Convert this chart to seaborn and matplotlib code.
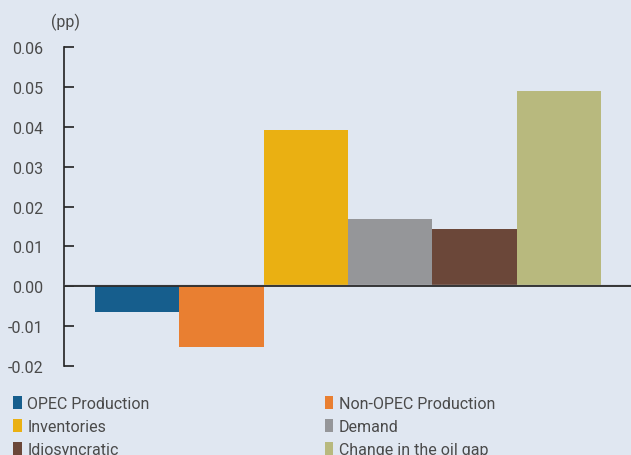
import matplotlib
matplotlib.use("Agg")
import matplotlib.pyplot as plt
import matplotlib.patches as mpatches
import seaborn as sns
import pandas as pd

categories = ["OPEC Production", "Non-OPEC Production", "Inventories",
              "Demand", "Idiosyncratic", "Change in the oil gap"]
values = [-0.0064, -0.0152, 0.0393, 0.0168, 0.0143, 0.0490]
colors = ["#165e8d", "#e97f31", "#eab012", "#959699", "#6b4739", "#b8b97e"]
yticks = [-0.02, -0.01, 0.00, 0.01, 0.02, 0.03, 0.04, 0.05, 0.06]

bg = "#e0e7f1"
text_color = "#4a4a4a"
fs = 11.5

sns.set_theme(style="white")
plt.rcParams["font.family"] = ["Roboto", "DejaVu Sans"]

df = pd.DataFrame({"category": categories, "value": values})

fig = plt.figure(figsize=(6.31, 4.56), dpi=100, facecolor=bg)
ax = fig.add_axes([64 / 631, 1 - 367 / 456, 1 - 64 / 631, (367 - 48) / 456])
ax.set_facecolor(bg)

sns.barplot(data=df, x="category", y="value", hue="category",
            palette=colors, width=1.0, legend=False, ax=ax,
            linewidth=0, saturation=1)

ax.set_xlim(-0.865, 5.853)
ax.set_ylim(-0.02, 0.06)
ax.set_yticks(yticks)
ax.set_yticklabels([f"{t:.2f}" for t in yticks], color=text_color, fontsize=fs)
ax.set_xticks([])
ax.set_xlabel("")
ax.set_ylabel("")

for side in ["top", "right", "bottom"]:
    ax.spines[side].set_visible(False)
ax.spines["left"].set_color("#222222")
ax.spines["left"].set_linewidth(1.2)
ax.tick_params(axis="y", direction="in", length=7, width=1.2,
               color="#222222", pad=15, left=True)

# zero baseline with a faint shadow just above it
ax.axhline(0.0004, color="#b5b9c0", lw=1.0, zorder=3)
ax.axhline(0, color="#2a2a2a", lw=1.3, zorder=4)

fig.text(65 / 631, 1 - 22 / 456, "(pp)", ha="center", va="center",
         color=text_color, fontsize=fs)

# Legend: two columns, filled column-wise
order = [0, 2, 4, 1, 3, 5]
handles = [mpatches.Patch(facecolor=colors[i], edgecolor="none") for i in order]
labels = [categories[i] for i in order]
fig.legend(handles, labels, ncol=2, loc="upper left",
           bbox_to_anchor=(13 / 631, 1 - 397 / 456), frameon=False,
           fontsize=fs, labelcolor=text_color,
           handlelength=0.55, handleheight=0.8, handletextpad=0.35,
           labelspacing=0.5, columnspacing=10.95, borderaxespad=0, borderpad=0)

fig.savefig("out.png", dpi=100, facecolor=bg)
